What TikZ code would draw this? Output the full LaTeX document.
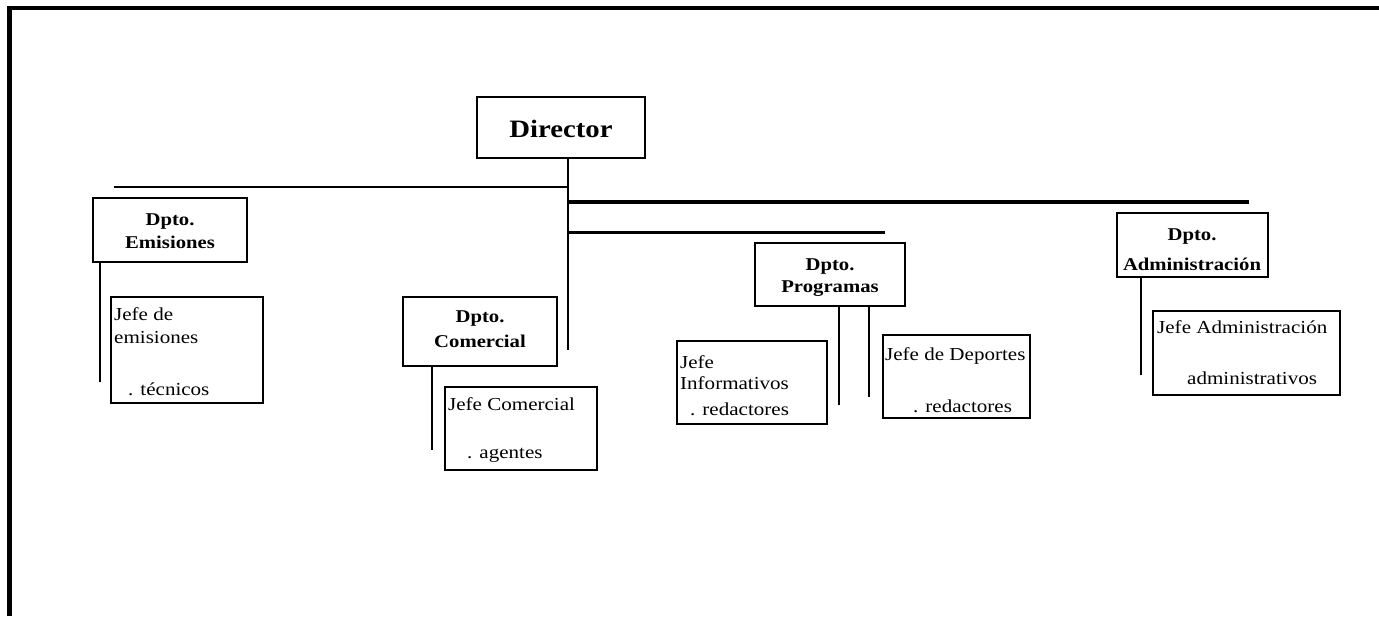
\documentclass[tikz,border=0pt]{standalone}
\usepackage{fontspec}
\setmainfont{Liberation Serif}[FakeStretch=1.15]
\begin{document}
\begin{tikzpicture}[x=1pt,y=-1pt,
  box/.style={draw, line width=1.8pt, inner sep=0pt},
  dbox/.style={draw, line width=2.1pt, inner sep=0pt},
  conn/.style={line width=2pt},
  dirfont/.style={font=\fontsize{25}{28}\selectfont\bfseries},
  dptfont/.style={font=\fontsize{18}{20}\selectfont\bfseries},
  jfont/.style={font=\fontsize{18.3}{20}\selectfont},
  lt/.style={jfont, anchor=base west, inner sep=0pt},
  ct/.style={dptfont, anchor=base, inner sep=0pt}]
\useasboundingbox (0,0) rectangle (1379,616);
\fill[white] (0,0) rectangle (1379,616);
% outer frame
\draw[line width=4.5pt] (9.5,616) -- (9.5,8) -- (1379,8);

% boxes
\node[dbox, minimum width=168pt, minimum height=61pt] (dir) at (561,127.5) {};
\node[dbox, minimum width=154pt, minimum height=64pt] (emi) at (170,230) {};
\node[dbox, minimum width=154pt, minimum height=69pt] (com) at (480,331.5) {};
\node[dbox, minimum width=150pt, minimum height=63pt] (pro) at (830,274.5) {};
\node[dbox, minimum width=151pt, minimum height=64pt] (adm) at (1192.5,245) {};
\node[box, minimum width=152pt, minimum height=106pt] (jemi) at (187,350) {};
\node[box, minimum width=152pt, minimum height=83pt] (jcom) at (521,428.5) {};
\node[box, minimum width=150pt, minimum height=83pt] (jinf) at (752,382.5) {};
\node[box, minimum width=147pt, minimum height=83pt] (jdep) at (956.5,376.5) {};
\node[box, minimum width=187pt, minimum height=84pt] (jadm) at (1246.5,353) {};

% texts
\node[dirfont, anchor=base, inner sep=0pt] (tdir) at (561,137) {Director};
\node[ct] (te1) at (170,225) {Dpto.};
\node[ct] (te2) at (170,248) {Emisiones};
\node[ct] (tc1) at (480,322) {Dpto.};
\node[ct] (tc2) at (480,347) {Comercial};
\node[ct] (tp1) at (830,270) {Dpto.};
\node[ct] (tp2) at (830,292) {Programas};
\node[ct] (ta1) at (1192,240) {Dpto.};
\node[ct] (ta2) at (1192,270) {Administración};

\node[lt] (je1) at (114,320) {Jefe de};
\node[lt] (je2) at (114,343) {emisiones};
\node[lt] (je3) at (128,395) {. técnicos};
\node[lt] (jc1) at (448,410) {Jefe Comercial};
\node[lt] (jc2) at (467,458) {. agentes};
\node[lt] (ji1) at (680,368) {Jefe};
\node[lt] (ji2) at (680,389) {Informativos};
\node[lt] (ji3) at (690,415) {. redactores};
\node[lt] (jd1) at (885,360) {Jefe de Deportes};
\node[lt] (jd2) at (913,412) {. redactores};
\node[lt] (ja1) at (1157,333) {Jefe Administración};
\node[lt] (ja2) at (1187,384) {administrativos};

% connectors
\coordinate (stemtop) at ([xshift=7pt]dir.south);
\coordinate (stembot) at (568,350);
\coordinate (h1l) at (114,187);
\coordinate (h1r) at (568,187);
\coordinate (h2l) at (568,202);
\coordinate (h2r) at (1249,202);
\coordinate (h3l) at (568,232);
\coordinate (h3r) at (885,232);
\draw[conn] (stemtop) -- (stembot);
\draw[conn] (h1l) -- (h1r);
\draw[line width=4pt] (h2l) -- (h2r);
\draw[line width=3pt] (h3l) -- (h3r);

\coordinate (ve) at (100,382);
\draw[line width=2.5pt] (emi.south west -| ve) -- (ve);
\coordinate (vc) at (432,450);
\draw[conn] (com.south west -| vc) -- (vc);
\coordinate (vp1) at (839,405);
\coordinate (vp2) at (869,397);
\draw[line width=2.5pt] (pro.south -| vp1) -- (vp1);
\draw[line width=2.5pt] (pro.south -| vp2) -- (vp2);
\coordinate (va) at (1141,375);
\draw[conn] (adm.south -| va) -- (va);
\end{tikzpicture}
\end{document}
